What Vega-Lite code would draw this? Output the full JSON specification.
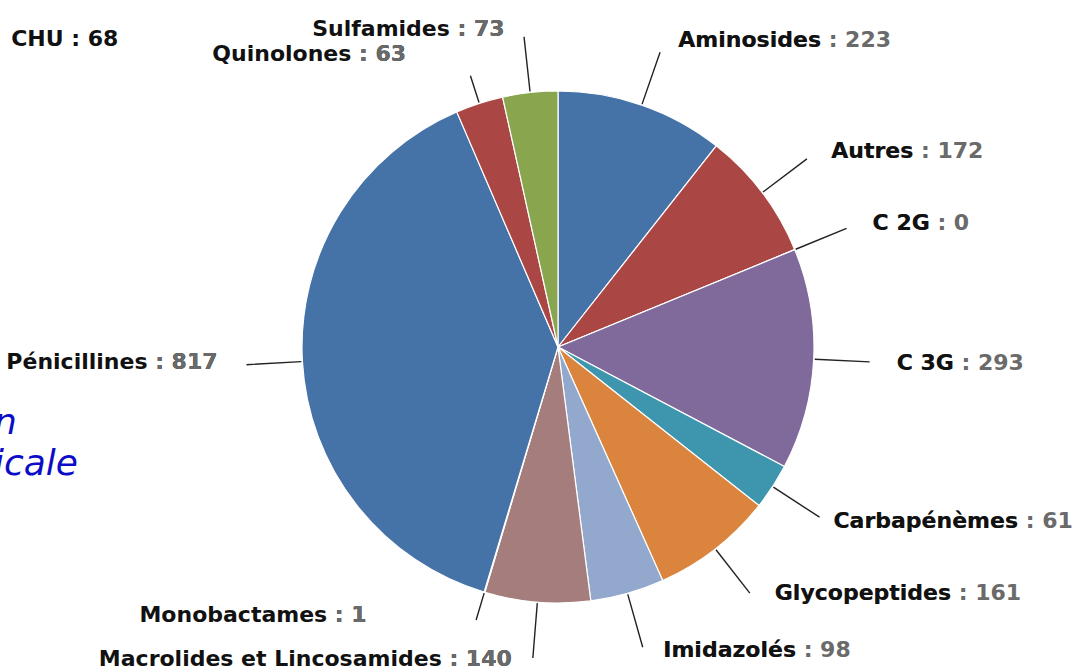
{
  "$schema": "https://vega.github.io/schema/vega-lite/v6.json",
  "width": 1038,
  "height": 648,
  "autosize": {"type": "none"},
  "padding": {"left": 39, "top": 23, "right": 0, "bottom": 0},
  "background": "white",
  "title": {
    "text": "\u2800CHU : 68",
    "subtitle": ["n", "icale"],
    "anchor": "start",
    "frame": "group",
    "orient": "top",
    "offset": 0,
    "dx": -45,
    "dy": 465,
    "font": "DejaVu Sans",
    "fontSize": 22,
    "fontWeight": "bold",
    "color": "#111111",
    "subtitleFont": "DejaVu Sans",
    "subtitleFontSize": 36,
    "subtitleFontStyle": "italic",
    "subtitleColor": "#0c0cc8",
    "subtitleLineHeight": 41,
    "subtitlePadding": 355
  },
  "data": {
    "values": [
      {"name": "Aminosides", "value": 223},
      {"name": "Autres", "value": 172},
      {"name": "C 2G", "value": 0},
      {"name": "C 3G", "value": 293},
      {"name": "Carbapénèmes", "value": 61},
      {"name": "Glycopeptides", "value": 161},
      {"name": "Imidazolés", "value": 98},
      {"name": "Macrolides et Lincosamides", "value": 140},
      {"name": "Monobactames", "value": 1},
      {"name": "Pénicillines", "value": 817},
      {"name": "Quinolones", "value": 63},
      {"name": "Sulfamides", "value": 73}
    ]
  },
  "layer": [
    {
      "mark": {"type": "arc", "radius": 256, "stroke": "#ffffff", "strokeWidth": 1.2},
      "encoding": {
        "theta": {"field": "value", "type": "quantitative", "stack": true},
        "order": {"field": "name", "sort": "ascending"},
        "color": {
          "field": "name", "type": "nominal", "legend": null,
          "scale": {
            "domain": ["Aminosides", "Autres", "C 2G", "C 3G", "Carbapénèmes", "Glycopeptides", "Imidazolés", "Macrolides et Lincosamides", "Monobactames", "Pénicillines", "Quinolones", "Sulfamides"],
            "range": ["#4572A7", "#AA4643", "#89A54E", "#80699B", "#3D96AE", "#DB843D", "#92A8CD", "#A47D7C", "#B5CA92", "#4572A7", "#AA4643", "#89A54E"]
          }
        }
      }
    },
    {
      "transform": [
        {"stack": "value", "groupby": [], "sort": [{"field": "name", "order": "ascending"}], "as": ["s0", "s1"]},
        {"fold": ["s0", "s1"], "as": ["k", "v"]},
        {"aggregate": [{"op": "mean", "field": "v", "as": "mid"}], "groupby": ["name", "value"]},
        {"filter": {"not": {"field": "name", "oneOf": ["Monobactames", "Quinolones"]}}}
      ],
      "mark": {"type": "arc", "radius": 312, "radius2": 257, "stroke": "#222222", "strokeWidth": 1.4, "fillOpacity": 0},
      "encoding": {
        "theta": {"field": "mid", "type": "quantitative", "stack": null},
        "theta2": {"field": "mid"}
      }
    },
    {
      "transform": [
        {"stack": "value", "groupby": [], "sort": [{"field": "name", "order": "ascending"}], "as": ["s0", "s1"]},
        {"fold": ["s0", "s1"], "as": ["k", "v"]},
        {"aggregate": [{"op": "mean", "field": "v", "as": "mid"}], "groupby": ["name", "value"]},
        {"filter": {"field": "name", "oneOf": ["Monobactames", "Quinolones"]}}
      ],
      "mark": {"type": "arc", "radius": 285, "radius2": 257, "stroke": "#222222", "strokeWidth": 1.4, "fillOpacity": 0},
      "encoding": {
        "theta": {"field": "mid", "type": "quantitative", "stack": null},
        "theta2": {"field": "mid"}
      }
    },
    {
      "transform": [
        {"stack": "value", "groupby": [], "sort": [{"field": "name", "order": "ascending"}], "as": ["s0", "s1"]},
        {"fold": ["s0", "s1"], "as": ["k", "v"]},
        {"aggregate": [{"op": "mean", "field": "v", "as": "mid"}], "groupby": ["name", "value"]},
        {"filter": {"field": "name", "oneOf": ["Aminosides", "Autres", "C 2G", "C 3G"]}}
      ],
      "encoding": {"theta": {"field": "mid", "type": "quantitative", "stack": null}},
      "layer": [
        {"mark": {"type": "text", "radius": 325, "align": "left", "baseline": "middle", "dx": 14, "dy": 0, "font": "DejaVu Sans", "fontSize": 22, "fontWeight": "bold", "fill": "#6a6a6a", "text": {"expr": "datum.name + ' : ' + datum.value"}}},
        {"mark": {"type": "text", "radius": 325, "align": "left", "baseline": "middle", "dx": 14, "dy": 0, "font": "DejaVu Sans", "fontSize": 22, "fontWeight": "bold", "fill": "#111111"}, "encoding": {"text": {"field": "name"}}}
      ]
    },
    {
      "transform": [
        {"stack": "value", "groupby": [], "sort": [{"field": "name", "order": "ascending"}], "as": ["s0", "s1"]},
        {"fold": ["s0", "s1"], "as": ["k", "v"]},
        {"aggregate": [{"op": "mean", "field": "v", "as": "mid"}], "groupby": ["name", "value"]},
        {"filter": {"field": "name", "oneOf": ["Carbapénèmes"]}}
      ],
      "encoding": {"theta": {"field": "mid", "type": "quantitative", "stack": null}},
      "layer": [
        {"mark": {"type": "text", "radius": 325, "align": "left", "baseline": "middle", "dx": 3, "dy": -3, "font": "DejaVu Sans", "fontSize": 22, "fontWeight": "bold", "fill": "#6a6a6a", "text": {"expr": "datum.name + ' : ' + datum.value"}}},
        {"mark": {"type": "text", "radius": 325, "align": "left", "baseline": "middle", "dx": 3, "dy": -3, "font": "DejaVu Sans", "fontSize": 22, "fontWeight": "bold", "fill": "#111111"}, "encoding": {"text": {"field": "name"}}}
      ]
    },
    {
      "transform": [
        {"stack": "value", "groupby": [], "sort": [{"field": "name", "order": "ascending"}], "as": ["s0", "s1"]},
        {"fold": ["s0", "s1"], "as": ["k", "v"]},
        {"aggregate": [{"op": "mean", "field": "v", "as": "mid"}], "groupby": ["name", "value"]},
        {"filter": {"field": "name", "oneOf": ["Glycopeptides", "Imidazolés"]}}
      ],
      "encoding": {"theta": {"field": "mid", "type": "quantitative", "stack": null}},
      "layer": [
        {"mark": {"type": "text", "radius": 325, "align": "left", "baseline": "middle", "dx": 17, "dy": -10, "font": "DejaVu Sans", "fontSize": 22, "fontWeight": "bold", "fill": "#6a6a6a", "text": {"expr": "datum.name + ' : ' + datum.value"}}},
        {"mark": {"type": "text", "radius": 325, "align": "left", "baseline": "middle", "dx": 17, "dy": -10, "font": "DejaVu Sans", "fontSize": 22, "fontWeight": "bold", "fill": "#111111"}, "encoding": {"text": {"field": "name"}}}
      ]
    },
    {
      "transform": [
        {"stack": "value", "groupby": [], "sort": [{"field": "name", "order": "ascending"}], "as": ["s0", "s1"]},
        {"fold": ["s0", "s1"], "as": ["k", "v"]},
        {"aggregate": [{"op": "mean", "field": "v", "as": "mid"}], "groupby": ["name", "value"]},
        {"filter": {"field": "name", "oneOf": ["Pénicillines"]}}
      ],
      "encoding": {"theta": {"field": "mid", "type": "quantitative", "stack": null}},
      "layer": [
        {"mark": {"type": "text", "radius": 325, "align": "right", "baseline": "middle", "dx": -16, "dy": -3, "font": "DejaVu Sans", "fontSize": 22, "fontWeight": "bold", "fill": "#111111", "text": {"expr": "datum.name + ' : ' + datum.value"}}},
        {"mark": {"type": "text", "radius": 325, "align": "right", "baseline": "middle", "dx": -16, "dy": -3, "font": "DejaVu Sans", "fontSize": 22, "fontWeight": "bold", "fill": "#6a6a6a", "text": {"expr": "': ' + datum.value"}}}
      ]
    },
    {
      "transform": [
        {"stack": "value", "groupby": [], "sort": [{"field": "name", "order": "ascending"}], "as": ["s0", "s1"]},
        {"fold": ["s0", "s1"], "as": ["k", "v"]},
        {"aggregate": [{"op": "mean", "field": "v", "as": "mid"}], "groupby": ["name", "value"]},
        {"filter": {"field": "name", "oneOf": ["Sulfamides"]}}
      ],
      "encoding": {"theta": {"field": "mid", "type": "quantitative", "stack": null}},
      "layer": [
        {"mark": {"type": "text", "radius": 325, "align": "right", "baseline": "middle", "dx": -18, "dy": 5, "font": "DejaVu Sans", "fontSize": 22, "fontWeight": "bold", "fill": "#111111", "text": {"expr": "datum.name + ' : ' + datum.value"}}},
        {"mark": {"type": "text", "radius": 325, "align": "right", "baseline": "middle", "dx": -18, "dy": 5, "font": "DejaVu Sans", "fontSize": 22, "fontWeight": "bold", "fill": "#6a6a6a", "text": {"expr": "': ' + datum.value"}}}
      ]
    },
    {
      "transform": [
        {"stack": "value", "groupby": [], "sort": [{"field": "name", "order": "ascending"}], "as": ["s0", "s1"]},
        {"fold": ["s0", "s1"], "as": ["k", "v"]},
        {"aggregate": [{"op": "mean", "field": "v", "as": "mid"}], "groupby": ["name", "value"]},
        {"filter": {"field": "name", "oneOf": ["Macrolides et Lincosamides"]}}
      ],
      "encoding": {"theta": {"field": "mid", "type": "quantitative", "stack": null}},
      "layer": [
        {"mark": {"type": "text", "radius": 325, "align": "right", "baseline": "middle", "dx": -20, "dy": -12, "font": "DejaVu Sans", "fontSize": 22, "fontWeight": "bold", "fill": "#111111", "text": {"expr": "datum.name + ' : ' + datum.value"}}},
        {"mark": {"type": "text", "radius": 325, "align": "right", "baseline": "middle", "dx": -20, "dy": -12, "font": "DejaVu Sans", "fontSize": 22, "fontWeight": "bold", "fill": "#6a6a6a", "text": {"expr": "': ' + datum.value"}}}
      ]
    },
    {
      "transform": [
        {"stack": "value", "groupby": [], "sort": [{"field": "name", "order": "ascending"}], "as": ["s0", "s1"]},
        {"fold": ["s0", "s1"], "as": ["k", "v"]},
        {"aggregate": [{"op": "mean", "field": "v", "as": "mid"}], "groupby": ["name", "value"]},
        {"filter": {"field": "name", "oneOf": ["Monobactames"]}}
      ],
      "encoding": {"theta": {"field": "mid", "type": "quantitative", "stack": null}},
      "layer": [
        {"mark": {"type": "text", "radius": 325, "align": "right", "baseline": "middle", "dx": -98, "dy": -43, "font": "DejaVu Sans", "fontSize": 22, "fontWeight": "bold", "fill": "#111111", "text": {"expr": "datum.name + ' : ' + datum.value"}}},
        {"mark": {"type": "text", "radius": 325, "align": "right", "baseline": "middle", "dx": -98, "dy": -43, "font": "DejaVu Sans", "fontSize": 22, "fontWeight": "bold", "fill": "#6a6a6a", "text": {"expr": "': ' + datum.value"}}}
      ]
    },
    {
      "transform": [
        {"stack": "value", "groupby": [], "sort": [{"field": "name", "order": "ascending"}], "as": ["s0", "s1"]},
        {"fold": ["s0", "s1"], "as": ["k", "v"]},
        {"aggregate": [{"op": "mean", "field": "v", "as": "mid"}], "groupby": ["name", "value"]},
        {"filter": {"field": "name", "oneOf": ["Quinolones"]}}
      ],
      "encoding": {"theta": {"field": "mid", "type": "quantitative", "stack": null}},
      "layer": [
        {"mark": {"type": "text", "radius": 325, "align": "right", "baseline": "middle", "dx": -52, "dy": 16, "font": "DejaVu Sans", "fontSize": 22, "fontWeight": "bold", "fill": "#111111", "text": {"expr": "datum.name + ' : ' + datum.value"}}},
        {"mark": {"type": "text", "radius": 325, "align": "right", "baseline": "middle", "dx": -52, "dy": 16, "font": "DejaVu Sans", "fontSize": 22, "fontWeight": "bold", "fill": "#6a6a6a", "text": {"expr": "': ' + datum.value"}}}
      ]
    }
  ]
}
